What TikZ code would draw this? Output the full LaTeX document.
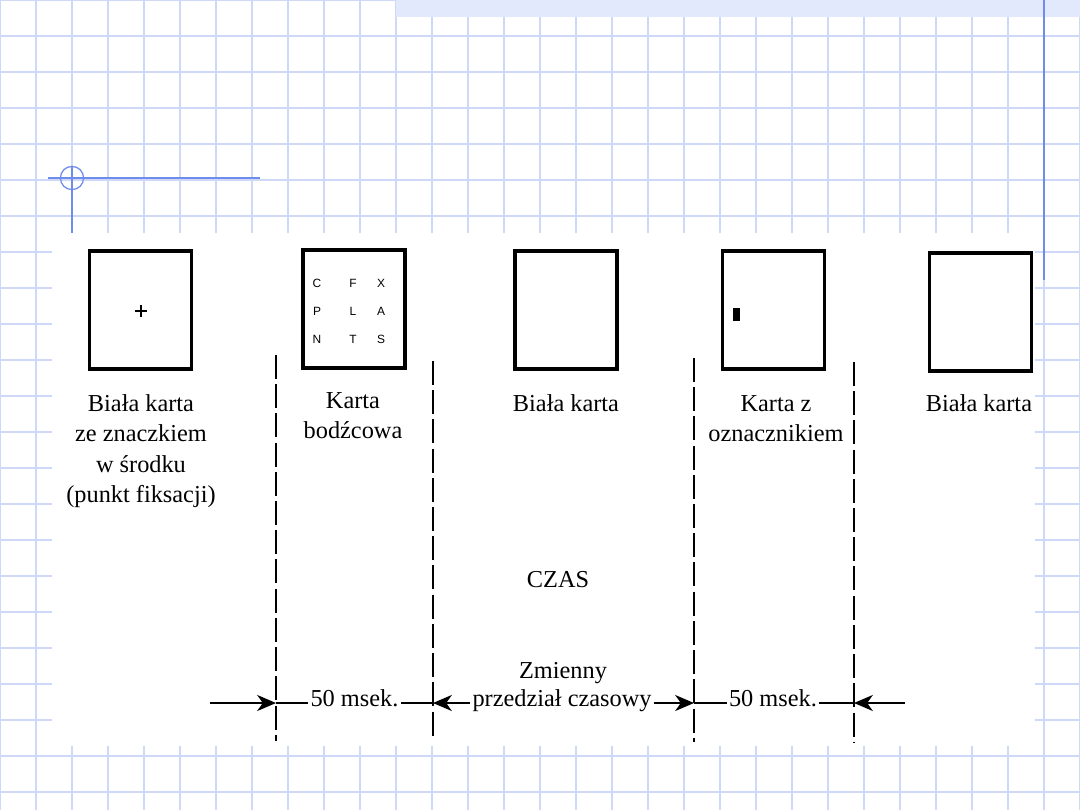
\documentclass[tikz,border=0pt]{standalone}
\usepackage{fontspec}
\setmainfont{Liberation Serif}
\newfontfamily\stampfont{Liberation Sans}
\usetikzlibrary{arrows.meta}
\definecolor{gridblue}{RGB}{206,216,248}
\definecolor{bandblue}{RGB}{226,233,252}
\definecolor{accentblue}{RGB}{112,140,234}
\tikzset{
  card/.style={draw, line width=2.8pt, minimum width=2.55cm, minimum height=2.95cm, inner sep=0pt},
  cardlabel/.style={align=center, anchor=north, inner sep=0pt, font=\fontsize{17.3pt}{21.7pt}\selectfont},
  stamp/.style={font=\stampfont\fontsize{8.5pt}{9pt}\selectfont, inner sep=0pt},
  gate/.style={line width=0.9pt, dash pattern=on 0.6cm off 0.13cm},
  spantext/.style={anchor=mid, inner sep=1.5pt, font=\fontsize{17.3pt}{20pt}\selectfont},
  timearrow/.style={line width=1.3pt, -{Stealth[length=0.47cm, width=0.4cm, inset=0.14cm]}},
  tickline/.style={line width=0.9pt}
}

\begin{document}
\begin{tikzpicture}[x=0.025cm, y=-0.025cm]
\useasboundingbox (0,0) rectangle (1080,810);
\fill[white] (0,0) rectangle (1080,810);
\foreach \k in {0,...,30} \draw[gridblue, line width=1.2pt] (36*\k,0) -- (36*\k,810);
\foreach \k in {0,...,22} \draw[gridblue, line width=1.2pt] (0,36*\k) -- (1080,36*\k);
\fill[bandblue] (396,0) rectangle (1080,17);
\fill[white] (52,233) rectangle (1035,746);
\draw[accentblue, line width=0.9pt] (48,178) -- (260,178) (72,167) -- (72,233);
\draw[accentblue, line width=0.9pt] (72,178) circle[radius=0.29cm];
\draw[accentblue, line width=1.6pt] (1044,0) -- (1044,280);

\node[card] (blank1) at (140.5,310) {};
\node[card] (stim) at (354,309) {};
\node[card] (blank2) at (566,310) {};
\node[card] (probe) at (773.5,310) {};
\node[card] (blank3) at (980.5,312) {};

\draw[line width=1pt] (135,311) -- (147,311) (141,305) -- (141,317);
\foreach \ch/\x/\y in {C/317/283, F/353/283, X/381/283, P/317/311, L/353/311, A/381/311, N/317/339, T/353/339, S/381/339}
  \node[stamp] (l\ch) at (\x,\y) {\ch};
\fill (733,308) rectangle (740,321);

\node[cardlabel] (cap1) at (141,394) {Biała karta\\ze znaczkiem\\w środku\\(punkt fiksacji)};
\node[cardlabel] (cap2) at (353,392) {Karta\\bodźcowa};
\node[cardlabel] (cap3) at (566,394) {Biała karta};
\node[cardlabel] (cap4) at (776,395) {Karta z\\oznacznikiem};
\node[cardlabel] (cap5) at (979,394.5) {Biała karta};

\node[anchor=base, font=\fontsize{17.3pt}{20pt}\selectfont] (czas) at (558,587) {CZAS};
\node[anchor=base, font=\fontsize{17.3pt}{20pt}\selectfont] (zm) at (563,678) {Zmienny};

\coordinate (g1t) at (276,355); \coordinate (g1b) at (276,741);
\coordinate (g2t) at (433,361); \coordinate (g2b) at (433,737);
\coordinate (g3t) at (694,358); \coordinate (g3b) at (694,742);
\coordinate (g4t) at (854,362); \coordinate (g4b) at (854,742);
\draw[gate] (g1t) -- (g1b);
\draw[gate] (g2t) -- (g2b);
\draw[gate] (g3t) -- (g3b);
\draw[gate] (g4t) -- (g4b);

\coordinate (axis) at (0,703);
\coordinate (in) at (210,703);
\coordinate (out) at (905,703);
\node[spantext] (ms1) at (354.5,703) {50 msek.};
\node[spantext] (gap) at (562,703) {przedział czasowy};
\node[spantext] (ms2) at (773,703) {50 msek.};

\draw[timearrow] (in) -- (g1t |- axis);
\draw[tickline] (g1t |- axis) -- (ms1.mid west);
\draw[tickline] (ms1.mid east) -- (g2t |- axis);
\draw[timearrow] (gap.mid west) -- (g2t |- axis);
\draw[timearrow] (gap.mid east) -- (g3t |- axis);
\draw[tickline] (g3t |- axis) -- (ms2.mid west);
\draw[tickline] (ms2.mid east) -- (g4t |- axis);
\draw[timearrow] (out) -- (g4t |- axis);
\end{tikzpicture}
\end{document}
